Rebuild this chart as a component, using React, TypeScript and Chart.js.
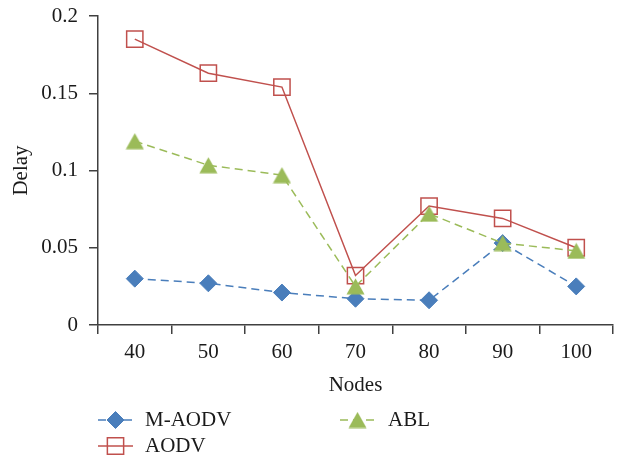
import { useEffect, useRef } from 'react';
import { Chart, registerables } from 'chart.js';

Chart.register(...registerables);

const nodes = ['40', '50', '60', '70', '80', '90', '100'];
const mAodv = [0.030, 0.027, 0.021, 0.017, 0.016, 0.053, 0.025];
const aodv = [0.185, 0.163, 0.154, 0.032, 0.077, 0.069, 0.050];
const abl = [0.119, 0.1034, 0.097, 0.025, 0.072, 0.053, 0.048];
const yTicks = [0, 0.05, 0.1, 0.15, 0.2];

const FONT = "'Liberation Serif', 'DejaVu Serif', serif";
const FS = 21;
const TEXT = '#1a1a1a';
const AXIS = '#404040';
const BLUE = '#4a7ebb';
const RED = '#c0504d';
const GREEN = '#9bbb59';

function makeTriangle(color: string) {
  const c = document.createElement('canvas');
  const w = 19;
  const h = 17;
  c.width = w;
  c.height = h;
  const g = c.getContext('2d')!;
  g.beginPath();
  g.moveTo(w / 2, 0.5);
  g.lineTo(w - 0.5, h - 0.5);
  g.lineTo(0.5, h - 0.5);
  g.closePath();
  g.fillStyle = color;
  g.fill();
  return c;
}

function drawMarker(ctx: CanvasRenderingContext2D, style: any, x: number, y: number, r: number, fill: string, stroke: string, lw: number) {
  ctx.save();
  if (style && typeof style !== 'string') {
    ctx.drawImage(style, x - style.width / 2, y - style.height / 2);
    ctx.restore();
    return;
  }
  ctx.beginPath();
  if (style === 'rectRot') {
    ctx.moveTo(x, y - r);
    ctx.lineTo(x + r, y);
    ctx.lineTo(x, y + r);
    ctx.lineTo(x - r, y);
    ctx.closePath();
  } else {
    const s = Math.SQRT1_2 * r;
    ctx.rect(x - s, y - s, 2 * s, 2 * s);
  }
  if (fill && fill !== 'transparent') {
    ctx.fillStyle = fill;
    ctx.fill();
  }
  ctx.lineWidth = lw;
  ctx.strokeStyle = stroke;
  ctx.stroke();
  ctx.restore();
}

const legendLayout = [
  { index: 0, x: 98, y: 420, tx: 145 },
  { index: 2, x: 340, y: 420, tx: 388 },
  { index: 1, x: 98, y: 446, tx: 145 },
];

const customLegend = {
  id: 'customLegend',
  afterDraw(chart: any) {
    const ctx: CanvasRenderingContext2D = chart.ctx;
    ctx.save();
    for (const item of legendLayout) {
      const ds: any = chart.data.datasets[item.index];
      ctx.save();
      ctx.beginPath();
      ctx.setLineDash(ds.borderDash || []);
      ctx.strokeStyle = ds.borderColor;
      ctx.lineWidth = ds.borderWidth;
      ctx.moveTo(item.x, item.y);
      ctx.lineTo(item.x + 35, item.y);
      ctx.stroke();
      ctx.restore();
      drawMarker(ctx, ds.pointStyle, item.x + 17.5, item.y, ds.pointRadius, ds.pointBackgroundColor, ds.pointBorderColor, ds.pointBorderWidth);
      ctx.fillStyle = TEXT;
      ctx.font = `${FS}px ${FONT}`;
      ctx.textBaseline = 'middle';
      ctx.textAlign = 'left';
      ctx.fillText(ds.label, item.tx, item.y);
    }
    ctx.restore();
  },
};

export default function App() {
  const ref = useRef<HTMLCanvasElement | null>(null);

  useEffect(() => {
    if (!ref.current) return;
    const tri = makeTriangle(GREEN);
    const chart = new Chart(ref.current, {
      type: 'line',
      data: {
        labels: nodes,
        datasets: [
          {
            label: 'M-AODV',
            data: mAodv,
            borderColor: BLUE,
            borderWidth: 1.5,
            borderDash: [8, 5],
            pointStyle: 'rectRot',
            pointRadius: 8.5,
            pointBackgroundColor: BLUE,
            pointBorderColor: BLUE,
            pointBorderWidth: 1,
            tension: 0,
            order: 2,
          } as any,
          {
            label: 'AODV',
            data: aodv,
            borderColor: RED,
            borderWidth: 1.5,
            pointStyle: 'rect',
            pointRadius: 11.5,
            pointBackgroundColor: 'transparent',
            pointBorderColor: RED,
            pointBorderWidth: 1.5,
            tension: 0,
            order: 1,
          } as any,
          {
            label: 'ABL',
            data: abl,
            borderColor: GREEN,
            borderWidth: 1.5,
            borderDash: [8, 5],
            pointStyle: tri,
            pointRadius: 10,
            pointBackgroundColor: GREEN,
            pointBorderColor: GREEN,
            pointBorderWidth: 1,
            tension: 0,
            order: 0,
          } as any,
        ],
      },
      options: {
        responsive: false,
        animation: false,
        events: [],
        layout: { padding: { left: 0, right: 9, top: 16, bottom: 0 } },
        plugins: {
          legend: { display: false },
          tooltip: { enabled: false },
        },
        scales: {
          x: {
            type: 'category',
            offset: true,
            grid: {
              offset: true,
              drawOnChartArea: false,
              drawTicks: true,
              tickLength: 9,
              color: AXIS,
              lineWidth: 1.5,
            },
            border: { display: true, color: AXIS, width: 1.5 },
            ticks: {
              color: TEXT,
              font: { family: FONT, size: FS },
              padding: 6,
              maxRotation: 0,
            },
            title: {
              display: true,
              text: 'Nodes',
              color: TEXT,
              font: { family: FONT, size: FS },
              padding: { top: 0, bottom: 59 },
            },
            afterFit: (scale: any) => {
              scale.height = 132;
              scale.paddingLeft = 0;
              scale.paddingRight = 0;
            },
          },
          y: {
            type: 'linear',
            min: 0,
            max: 0.2,
            grid: {
              drawOnChartArea: false,
              drawTicks: true,
              tickLength: 9,
              color: AXIS,
              lineWidth: 1.5,
            },
            border: { display: true, color: AXIS, width: 1.5 },
            afterBuildTicks: (scale: any) => {
              scale.ticks = yTicks.map((v) => ({ value: v }));
            },
            ticks: {
              color: TEXT,
              font: { family: FONT, size: FS },
              padding: 11,
              callback: (v: any) => String(+Number(v).toFixed(2)),
            },
            title: {
              display: true,
              text: 'Delay',
              color: TEXT,
              font: { family: FONT, size: FS },
              padding: { top: 9, bottom: 0 },
            },
            afterFit: (scale: any) => {
              scale.width = 98;
              scale.paddingTop = 0;
              scale.paddingBottom = 0;
            },
          },
        },
      },
      plugins: [customLegend],
    });
    return () => chart.destroy();
  }, []);

  return (
    <div style={{ position: 'absolute', left: 0, top: 0, width: 626, height: 457, background: '#fff' }}>
      <canvas ref={ref} width={626} height={457} />
    </div>
  );
}
